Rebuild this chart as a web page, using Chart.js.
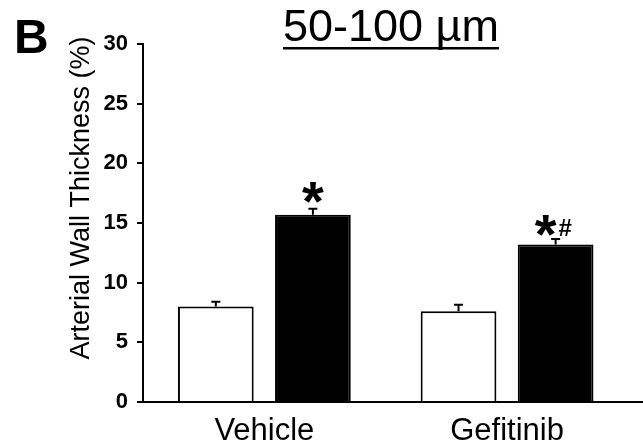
<!DOCTYPE html>
<html>
<head>
<meta charset="utf-8">
<script src="https://cdn.jsdelivr.net/npm/chart.js@4.4.1/dist/chart.umd.min.js"></script>
<style>
  html, body { margin: 0; padding: 0; background: #fff; }
  #wrap { width: 643px; height: 444px; position: relative; }
</style>
</head>
<body>
<div id="wrap"><canvas id="chart" width="643" height="444"></canvas></div>
<script>
// values
const groups = ['Vehicle', 'Gefitinib'];
const controlMeans = [8.0, 7.6];
const controlErr = [0.4, 0.55];
const treatedMeans = [15.7, 13.2];
const treatedErr = [0.5, 0.45];
const yTicks = [0, 5, 10, 15, 20, 25, 30];
const markers = [
    { dataset: 1, index: 0, star: '*', hash: '' },
    { dataset: 1, index: 1, star: '*', hash: '#' }
];

const means = [controlMeans, treatedMeans];
const errs = [controlErr, treatedErr];

const errorBars = {
    id: 'errorBars',
    afterDatasetsDraw(chart) {
        const ctx = chart.ctx;
        const y = chart.scales.y;
        ctx.save();
        ctx.strokeStyle = '#000';
        ctx.lineWidth = 2;
        chart.data.datasets.forEach((ds, i) => {
            chart.getDatasetMeta(i).data.forEach((bar, j) => {
                const top = y.getPixelForValue(means[i][j] + errs[i][j]);
                ctx.beginPath();
                ctx.moveTo(bar.x, bar.y);
                ctx.lineTo(bar.x, top);
                ctx.moveTo(bar.x - 4.5, top);
                ctx.lineTo(bar.x + 4.5, top);
                ctx.stroke();
            });
        });
        ctx.restore();
    }
};

const labels = {
    id: 'labels',
    afterDraw(chart) {
        const ctx = chart.ctx;
        const y = chart.scales.y;
        ctx.save();
        ctx.fillStyle = '#000';

        // panel letter
        ctx.font = 'bold 48px "Liberation Sans", Arial, sans-serif';
        ctx.textAlign = 'left';
        ctx.textBaseline = 'alphabetic';
        ctx.fillText('B', 14, 53);

        // title, underlined
        ctx.font = '45px "Liberation Sans", Arial, sans-serif';
        ctx.textAlign = 'center';
        const title = '50-100 µm';
        const tw = ctx.measureText(title).width;
        ctx.fillText(title, 391, 41);
        ctx.fillRect(391 - tw / 2, 47, tw, 2.5);

        // y axis title
        ctx.save();
        ctx.translate(89, 198);
        ctx.rotate(-Math.PI / 2);
        ctx.font = '27px "Liberation Sans", Arial, sans-serif';
        ctx.textAlign = 'center';
        ctx.textBaseline = 'alphabetic';
        ctx.fillText('Arterial Wall Thickness (%)', 0, 0);
        ctx.restore();

        // significance marks
        markers.forEach(m => {
            const bar = chart.getDatasetMeta(m.dataset).data[m.index];
            const top = y.getPixelForValue(means[m.dataset][m.index] + errs[m.dataset][m.index]);
            ctx.font = 'bold 56px "Liberation Sans", Arial, sans-serif';
            ctx.textAlign = 'center';
            ctx.textBaseline = 'alphabetic';
            const mt = ctx.measureText(m.star);
            const sx = m.hash ? bar.x - 10 : bar.x;
            ctx.fillText(m.star, sx, top - (m.hash ? 3 : 6) - mt.actualBoundingBoxDescent);
            if (m.hash) {
                ctx.font = 'bold 24px "Liberation Sans", Arial, sans-serif';
                ctx.textAlign = 'left';
                ctx.fillText(m.hash, bar.x + 3, top - 3);
            }
        });
        ctx.restore();
    }
};

const ctx = document.getElementById('chart').getContext('2d');
new Chart(ctx, {
    type: 'bar',
    data: {
        datasets: [{
            label: 'Control',
            data: controlMeans.map((v, i) => ({ x: i, y: v })),
            backgroundColor: '#fff',
            borderColor: '#000',
            borderWidth: 2,
            borderSkipped: 'bottom'
        }, {
            label: 'Treated',
            data: treatedMeans.map((v, i) => ({ x: i, y: v })),
            backgroundColor: '#000',
            borderColor: '#000',
            borderWidth: 2,
            borderSkipped: 'bottom'
        }]
    },
    options: {
        responsive: false,
        animation: false,
        events: [],
        categoryPercentage: 0.8,
        barPercentage: 0.78,
        layout: { padding: { top: 44, right: 0, left: 0, bottom: 0 } },
        plugins: { legend: { display: false }, tooltip: { enabled: false }, title: { display: false } },
        scales: {
            x: {
                type: 'linear',
                offset: false,
                min: -0.5,
                max: 1.56,
                afterFit(scale) { scale.height = 42; },
                afterBuildTicks(scale) { scale.ticks = groups.map((g, i) => ({ value: i })); },
                grid: { display: false, offset: false },
                border: { display: true, color: '#000', width: 2 },
                ticks: {
                    autoSkip: false,
                    maxRotation: 0,
                    padding: 3,
                    color: '#000',
                    font: { family: '"Liberation Sans", Arial, sans-serif', size: 31 },
                    callback: v => groups[v]
                }
            },
            y: {
                min: 0,
                max: 30,
                afterFit(scale) { scale.width = 143; },
                afterBuildTicks(scale) { scale.ticks = yTicks.map(v => ({ value: v })); },
                grid: { drawOnChartArea: false, drawTicks: true, tickLength: 6, color: '#000', lineWidth: 2 },
                border: { display: true, color: '#000', width: 2 },
                ticks: {
                    padding: 9,
                    color: '#000',
                    font: { family: '"Liberation Sans", Arial, sans-serif', size: 22, weight: 'bold' }
                }
            }
        }
    },
    plugins: [errorBars, labels]
});
</script>
</body>
</html>
